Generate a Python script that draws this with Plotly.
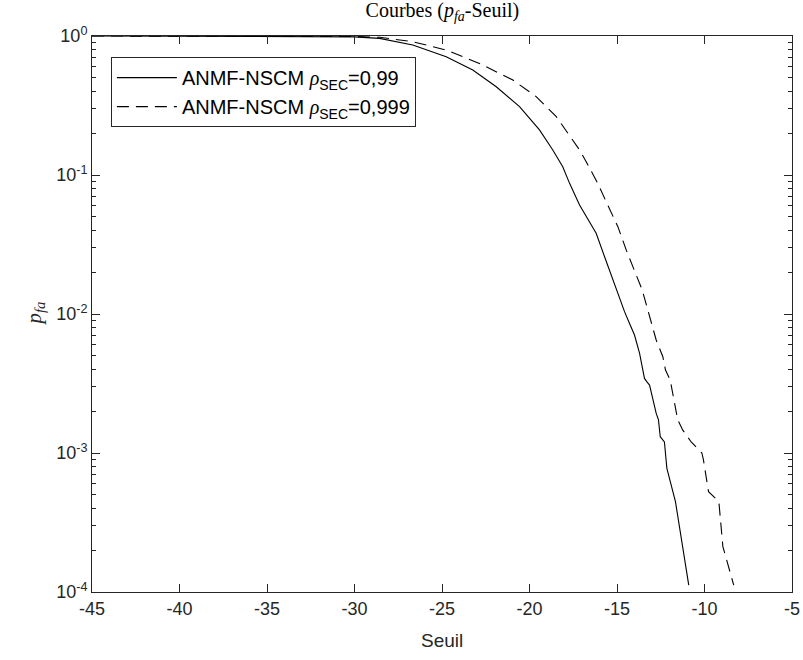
import plotly.graph_objects as go

# seuil (x) and false-alarm probability
seuil_099 = [-45, -40, -35, -32, -30, -28.57, -26.67, -24.76, -23.24, -21.90, -20.57, -19.43,
             -18.67, -18.10, -17.71, -17.14, -16.57, -16.19, -15.71, -15.24, -14.86, -14.57,
             -14.29, -14.00, -13.71, -13.43, -13.30, -13.14, -12.76, -12.63, -12.53, -12.29,
             -12.15, -11.66, -10.90]
pfa_099 = [1.0, 0.99954, 0.9977, 0.9931, 0.9863, 0.9616, 0.861, 0.710, 0.569, 0.4315, 0.3105, 0.2109,
           0.1514, 0.1148, 0.0871, 0.0608, 0.0461, 0.0381, 0.0258, 0.0176, 0.0130, 0.0104,
           0.00857, 0.00706, 0.00521, 0.00344, 0.00326, 0.00308, 0.00193, 0.00173, 0.00131, 0.00120,
           0.000776, 0.000447, 0.000112]

seuil_0999 = [-45, -40, -35, -32, -30, -28.57, -26.67, -24.76, -22.86, -20.95, -19.62, -18.47,
              -17.53, -17.14, -16.76, -16.10, -15.53, -14.95, -14.47, -13.90, -13.56, -13.43,
              -13.24, -13.05, -12.76, -12.38, -12.23, -11.96, -11.81, -11.53, -11.24, -10.76,
              -10.15, -10.06, -9.77, -9.49, -9.18, -8.95, -8.33]
pfa_0999 = [1.0, 0.99977, 0.99885, 0.9954, 0.9908, 0.9795, 0.9099, 0.7925, 0.6353, 0.4819, 0.3664, 0.2630,
            0.1786, 0.1514, 0.1247, 0.0871, 0.0608, 0.0425, 0.0288, 0.0191, 0.0149, 0.0130,
            0.0107, 0.00857, 0.00650, 0.00493, 0.00395, 0.00335, 0.00269, 0.00173, 0.00146, 0.00120,
            0.00100, 0.000891, 0.000527, 0.000491, 0.000447, 0.000212, 0.000112]

x_ticks = [-45, -40, -35, -30, -25, -20, -15, -10, -5]
y_ticks = [1e-4, 1e-3, 1e-2, 1e-1, 1]
y_ticktext = ["10<sup>-4</sup>", "10<sup>-3</sup>", "10<sup>-2</sup>", "10<sup>-1</sup>", "10<sup>0</sup>"]

SERIF = "Liberation Serif, DejaVu Serif, serif"
RHO = "<span style='font-family:\"Liberation Serif\"'><i>ρ</i></span>"
AX = "#262626"

fig = go.Figure()
fig.add_trace(go.Scatter(x=seuil_099, y=pfa_099, mode="lines",
                         line=dict(color="black", width=1.1),
                         name=f"ANMF-NSCM {RHO}<sub>SEC</sub>=0,99"))
fig.add_trace(go.Scatter(x=seuil_0999, y=pfa_0999, mode="lines",
                         line=dict(color="black", width=1.1, dash="12px,7px"),
                         name=f"ANMF-NSCM {RHO}<sub>SEC</sub>=0,999"))

fig.update_layout(
    width=803, height=660,
    margin=dict(l=92, r=11, t=36, b=68, autoexpand=False),
    paper_bgcolor="white", plot_bgcolor="white",
    font=dict(family="Liberation Sans, Arial, sans-serif", size=19, color=AX),
    title=dict(text="Courbes (<i>p</i><sub><i>fa</i></sub>-Seuil)",
               x=0.551, xanchor="center", y=0.985, yanchor="middle",
               font=dict(family=SERIF, size=20, color="black")),
    legend=dict(x=0.027, y=0.962, xanchor="left", yanchor="top",
                bgcolor="white", bordercolor=AX, borderwidth=1,
                font=dict(size=20, color="black"), itemwidth=60,
                tracegroupgap=0),
    showlegend=True,
    annotations=[
        dict(text="Seuil", xref="paper", yref="paper", x=0.5, y=-0.087,
             xanchor="center", yanchor="middle", showarrow=False,
             font=dict(size=19, color=AX)),
        dict(text="<i>p</i><sub><i>fa</i></sub>", xref="paper", yref="paper",
             x=-0.082, y=0.5, xanchor="center", yanchor="middle", textangle=-90,
             showarrow=False, font=dict(family=SERIF, size=21, color=AX)),
    ],
)
fig.update_xaxes(
    range=[-45, -5], tickvals=x_ticks, ticktext=[str(v) for v in x_ticks],
    ticks="inside", ticklen=8, tickwidth=1, tickcolor=AX, showline=True, linecolor=AX, linewidth=1,
    mirror="ticks", showgrid=False, zeroline=False, automargin=False,
    tickfont=dict(size=18, color=AX),
)
fig.update_yaxes(
    type="log", range=[-4, 0], tickvals=y_ticks, ticktext=y_ticktext,
    ticks="inside", ticklen=8, tickwidth=1, tickcolor=AX, showline=True, linecolor=AX, linewidth=1,
    mirror="ticks", showgrid=False, zeroline=False, automargin=False,
    minor=dict(dtick="D1", ticks="inside", ticklen=4, tickwidth=1, tickcolor=AX, showgrid=False),
    tickfont=dict(size=18, color=AX),
)

# the page body has a default 8px margin; drop it so the figure fills the window
fig.write_html("out.html", post_script="document.body.style.margin='0';",
               config={"displayModeBar": False})
